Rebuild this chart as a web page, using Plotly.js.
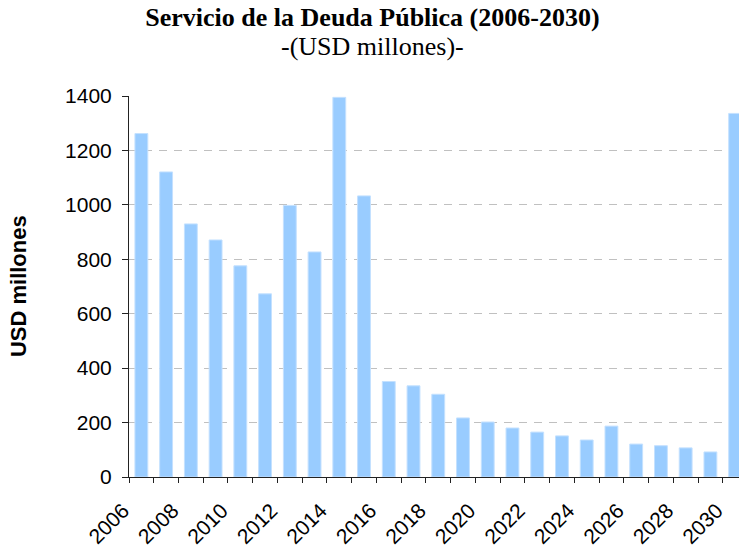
<!DOCTYPE html>
<html>
<head>
<meta charset="utf-8">
<script src="https://cdn.plot.ly/plotly-3.0.1.min.js"></script>
<style>
  html, body { margin: 0; padding: 0; background: #fff; overflow: hidden; }
  #chart { width: 739px; height: 548px; }
</style>
</head>
<body>
<div id="chart"></div>
<script>
// Data
const years = [2006, 2007, 2008, 2009, 2010, 2011, 2012, 2013, 2014, 2015, 2016, 2017,
               2018, 2019, 2020, 2021, 2022, 2023, 2024, 2025, 2026, 2027, 2028, 2029, 2030];
const servicioDeuda = [1262, 1121, 930, 871, 776, 673, 998, 827, 1395, 1033, 351, 335,
                       304, 217, 202, 180, 165, 151, 136, 187, 121, 115, 107, 92, 1336];
const tickLabelYears = ["2006", "", "2008", "", "2010", "", "2012", "", "2014", "", "2016", "",
                        "2018", "", "2020", "", "2022", "", "2024", "", "2026", "", "2028", "", "2030"];
const yTicks = [0, 200, 400, 600, 800, 1000, 1200, 1400];
const titleText = 'Servicio de la Deuda Pública (2006-2030)';
const subtitleText = '-(USD millones)-';
const yTitleText = 'USD millones';

// ticks sit on the category boundaries (left edge of each year)
const boundaryTicks = years.map(y => y - 0.5);

const trace = {
  type: 'bar',
  x: years,
  y: servicioDeuda,
  width: 0.52,
  marker: { color: '#99ccff', line: { color: '#c4e1ff', width: 1 } },
  hoverinfo: 'x+y'
};

const layout = {
  width: 739,
  height: 548,
  paper_bgcolor: '#ffffff',
  plot_bgcolor: '#ffffff',
  margin: { l: 129, r: 0, t: 96, b: 71, pad: 0 },
  showlegend: false,
  title: {
    text: '<b>' + titleText + '</b>',
    font: { family: 'Liberation Serif, Times New Roman, serif', size: 26, color: '#000000' },
    xref: 'container', x: 0.504, xanchor: 'center',
    yref: 'container', y: 1 - 8 / 548, yanchor: 'top'
  },
  xaxis: {
    type: 'linear',
    range: [2005.5, 2030.156],
    tickmode: 'array',
    tickvals: boundaryTicks,
    ticktext: tickLabelYears,
    tickangle: -45,
    ticks: 'outside',
    ticklen: 5,
    tickwidth: 1,
    tickcolor: '#222222',
    showline: true,
    linecolor: '#222222',
    linewidth: 1,
    showgrid: false,
    zeroline: false,
    ticklabelstandoff: 7,
    ticklabelshift: -6,
    tickfont: { family: 'Liberation Sans, Arial, sans-serif', size: 21, color: '#000000' },
    fixedrange: true
  },
  yaxis: {
    range: [0, 1400],
    tickmode: 'array',
    tickvals: yTicks,
    ticks: 'outside',
    ticklen: 6,
    tickwidth: 1,
    tickcolor: '#222222',
    showline: true,
    linecolor: '#222222',
    linewidth: 1,
    showgrid: true,
    gridcolor: '#c0c0c0',
    gridwidth: 1,
    griddash: '8px,7px',
    zeroline: false,
    ticklabelstandoff: 6,
    tickfont: { family: 'Liberation Sans, Arial, sans-serif', size: 21, color: '#000000' },
    fixedrange: true
  },
  annotations: [{
    text: subtitleText,
    xref: 'paper', yref: 'paper',
    x: (372.5 - 129) / 610, y: 1 + (96 - 46) / 381,
    xanchor: 'center', yanchor: 'middle',
    showarrow: false,
    font: { family: 'Liberation Serif, Times New Roman, serif', size: 26, color: '#000000' }
  }, {
    text: '<b>' + yTitleText + '</b>',
    xref: 'paper', yref: 'paper',
    x: -0.181, y: 0.5,
    xanchor: 'center', yanchor: 'middle',
    textangle: -90,
    showarrow: false,
    font: { family: 'Liberation Sans, Arial, sans-serif', size: 22, color: '#000000' }
  }]
};

Plotly.newPlot('chart', [trace], layout, { displayModeBar: false, staticPlot: true });
</script>
</body>
</html>
